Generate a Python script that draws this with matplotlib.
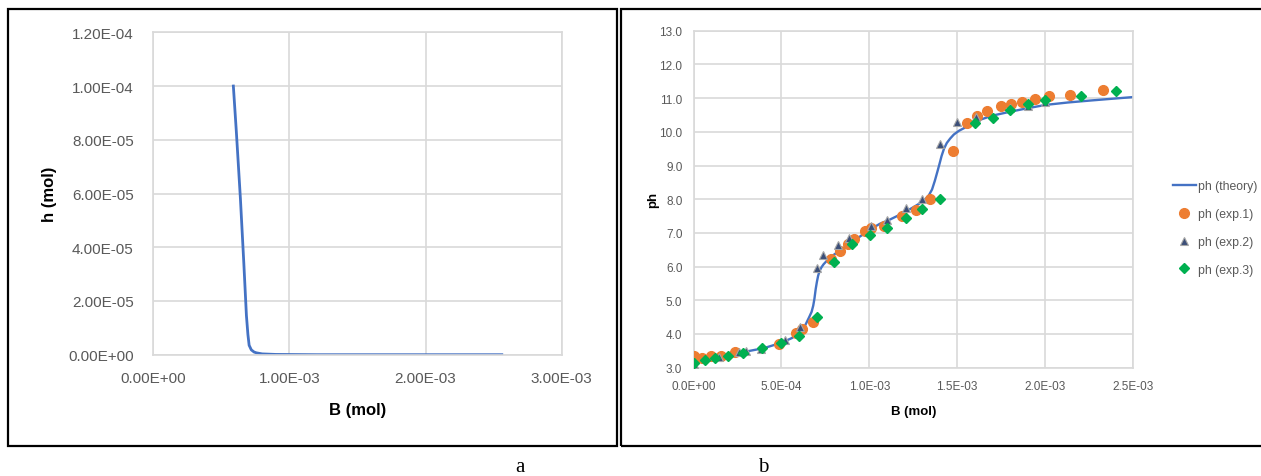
import matplotlib
matplotlib.use("Agg")
import matplotlib.pyplot as plt
from matplotlib.patches import Rectangle

# === Dados ===
# painel a: h (mol) vs B (mol)
a_B = [5.88e-4, 6.10e-4, 6.40e-4, 6.65e-4, 6.84e-4, 6.95e-4, 7.04e-4, 7.20e-4,
       7.40e-4, 7.57e-4, 8.0e-4, 9.0e-4, 1.2e-3, 1.8e-3, 2.56e-3]
a_h = [1.0e-4, 8.3e-5, 5.8e-5, 3.4e-5, 1.46e-5, 7.5e-6, 3.5e-6, 1.8e-6,
       1.0e-6, 0.7e-6, 0.3e-6, 0.1e-6, 0.0, 0.0, 0.0]

# painel b: ph vs B (mol)
th_B = [0.0, 1.0e-4, 2.0e-4, 3.0e-4, 4.0e-4, 5.0e-4, 5.6e-4, 6.0e-4, 6.3e-4, 6.58e-4,
        6.72e-4, 6.81e-4, 6.88e-4, 6.95e-4, 7.02e-4, 7.09e-4, 7.18e-4, 7.28e-4,
        7.40e-4, 7.58e-4, 7.85e-4, 8.16e-4, 8.6e-4, 9.1e-4, 9.6e-4, 1.007e-3,
        1.06e-3, 1.119e-3, 1.17e-3, 1.213e-3, 1.26e-3, 1.306e-3, 1.335e-3,
        1.357e-3, 1.373e-3, 1.388e-3, 1.400e-3, 1.411e-3, 1.425e-3, 1.441e-3,
        1.46e-3, 1.481e-3, 1.51e-3, 1.539e-3, 1.58e-3, 1.632e-3, 1.70e-3,
        1.796e-3, 1.90e-3, 2.006e-3, 2.13e-3, 2.262e-3, 2.38e-3, 2.5e-3]
th_ph = [3.28, 3.33, 3.40, 3.48, 3.58, 3.74, 3.88, 4.03, 4.20, 4.50,
         4.66, 4.84, 5.05, 5.33, 5.55, 5.73, 5.88, 5.98,
         6.07, 6.17, 6.30, 6.42, 6.58, 6.76, 6.94, 7.11,
         7.27, 7.40, 7.53, 7.65, 7.79, 7.94, 8.08,
         8.29, 8.55, 8.83, 9.06, 9.28, 9.50, 9.67,
         9.80, 9.92, 10.03, 10.11, 10.23, 10.36, 10.48,
         10.59, 10.70, 10.80, 10.87, 10.93, 10.98, 11.03]

exp1_B = [0.0, 4.7e-5, 9.8e-5, 1.59e-4, 2.38e-4, 4.85e-4, 5.83e-4, 6.2e-4, 6.8e-4,
          7.81e-4, 8.35e-4, 8.77e-4, 9.14e-4, 9.75e-4, 1.007e-3, 1.084e-3,
          1.185e-3, 1.264e-3, 1.348e-3, 1.476e-3, 1.558e-3, 1.614e-3, 1.672e-3,
          1.749e-3, 1.807e-3, 1.870e-3, 1.943e-3, 2.024e-3, 2.139e-3, 2.332e-3]
exp1_ph = [3.36, 3.30, 3.35, 3.36, 3.46, 3.71, 4.02, 4.15, 4.35,
           6.22, 6.47, 6.67, 6.83, 7.06, 7.16, 7.21,
           7.50, 7.67, 8.02, 9.42, 10.26, 10.46, 10.63,
           10.77, 10.83, 10.87, 10.97, 11.05, 11.10, 11.23]

exp2_B = [0.0, 1.47e-4, 2.57e-4, 2.99e-4, 3.85e-4, 5.2e-4, 6.06e-4, 7.04e-4,
          7.39e-4, 8.21e-4, 8.82e-4, 1.007e-3, 1.103e-3, 1.206e-3, 1.299e-3,
          1.404e-3, 1.499e-3, 1.609e-3, 1.80e-3, 1.90e-3, 2.0e-3]
exp2_ph = [3.12, 3.32, 3.46, 3.51, 3.56, 3.83, 4.20, 5.95,
           6.34, 6.65, 6.86, 7.21, 7.38, 7.73, 8.02,
           9.65, 10.28, 10.44, 10.70, 10.77, 10.87]

exp3_B = [0.0, 6.3e-5, 1.21e-4, 1.98e-4, 2.82e-4, 3.89e-4, 4.99e-4, 6.02e-4,
          7.04e-4, 8.0e-4, 9.02e-4, 1.003e-3, 1.103e-3, 1.206e-3, 1.301e-3,
          1.404e-3, 1.602e-3, 1.702e-3, 1.80e-3, 1.90e-3, 2.0e-3, 2.204e-3, 2.402e-3]
exp3_ph = [3.14, 3.22, 3.29, 3.34, 3.43, 3.58, 3.73, 3.93,
           4.50, 6.15, 6.67, 6.93, 7.16, 7.45, 7.72,
           8.02, 10.26, 10.41, 10.66, 10.83, 10.95, 11.05, 11.20]

a_yticks = [0, 2e-5, 4e-5, 6e-5, 8e-5, 1e-4, 1.2e-4]
a_xticks = [0, 1e-3, 2e-3, 3e-3]
b_yticks = [3.0, 4.0, 5.0, 6.0, 7.0, 8.0, 9.0, 10.0, 11.0, 12.0, 13.0]
b_xticks = [0, 5e-4, 1e-3, 1.5e-3, 2e-3, 2.5e-3]

# === Estilo ===
narrow = ["Liberation Sans Narrow", "Liberation Sans", "DejaVu Sans"]
plt.rcParams["font.family"] = ["Liberation Sans", "DejaVu Sans"]
grid_c = "#d9d9d9"
tick_c = "#595959"
blue = "#4472C4"

W, H = 1261, 477
fig = plt.figure(figsize=(W / 100, H / 100), dpi=100)


def frac(x0, y0, x1, y1):
    # caixa em pixels (origem no topo) -> fração da figura
    return [x0 / W, 1 - y1 / H, (x1 - x0) / W, (y1 - y0) / H]


def style(ax):
    for s in ax.spines.values():
        s.set_color(grid_c)
        s.set_linewidth(1.2)
    ax.grid(True, color=grid_c, lw=1.2)
    ax.set_axisbelow(True)
    ax.tick_params(length=0, colors=tick_c)


# molduras
fig.add_artist(Rectangle((8 / W, 1 - 447 / H), (617 - 8) / W, (447 - 10) / H,
                         transform=fig.transFigure, fill=False, ec="black", lw=1.6))
fig.add_artist(Rectangle((621 / W, 1 - 447 / H), (1264 - 621) / W, (447 - 10) / H,
                         transform=fig.transFigure, fill=False, ec="black", lw=1.6))

# === Painel a ===
ax1 = fig.add_axes(frac(153.3, 33.3, 561.7, 355.7))
style(ax1)
ax1.plot(a_B, a_h, color=blue, lw=2.0)
ax1.set_xlim(0, 3e-3)
ax1.set_ylim(0, 1.2e-4)
ax1.set_xticks(a_xticks)
ax1.set_yticks(a_yticks)
ax1.set_xticklabels(["%.2E" % v for v in a_xticks], fontsize=11)
ax1.set_yticklabels(["%.2E" % v for v in a_yticks], fontsize=11)
ax1.tick_params(axis="y", pad=14)
ax1.tick_params(axis="x", pad=12)
ax1.set_xlabel("B (mol)", fontsize=12, fontweight="bold", labelpad=12)
ax1.set_ylabel("h (mol)", fontsize=12, fontweight="bold", labelpad=8)

# === Painel b ===
ax2 = fig.add_axes(frac(693.5, 31.7, 1133, 368.7))
style(ax2)
ax2.plot(th_B, th_ph, color=blue, lw=1.7, label="ph (theory)", zorder=2)
ax2.plot(exp1_B, exp1_ph, "o", color="#ED7D31", ms=7, mec="#ED7D31",
         label="ph (exp.1)", zorder=3)
ax2.plot(exp2_B, exp2_ph, "^", color="#3B4E78", ms=6, mec="#A6A6A6", mew=0.8,
         label="ph (exp.2)", zorder=4)
ax2.plot(exp3_B, exp3_ph, "D", color="#00B050", ms=5.3, mec="#00B050",
         label="ph (exp.3)", zorder=5)
ax2.set_xlim(0, 2.5e-3)
ax2.set_ylim(3, 13)
ax2.set_xticks(b_xticks)
ax2.set_yticks(b_yticks)
ax2.set_xticklabels(["%.1E" % v for v in b_xticks], fontsize=8.5, family=narrow)
ax2.set_yticklabels(["%.1f" % v for v in b_yticks], fontsize=8.5, family=narrow)
ax2.tick_params(axis="y", pad=8)
ax2.tick_params(axis="x", pad=9)
ax2.set_xlabel("B (mol)", fontsize=9.5, fontweight="bold", family=narrow, labelpad=9)
ax2.set_ylabel("ph", fontsize=9.5, fontweight="bold", labelpad=0)

leg = ax2.legend(loc="center left", bbox_to_anchor=(1.065, 0.415), frameon=False,
                 prop={"family": narrow, "size": 8.8}, labelspacing=1.3,
                 handlelength=1.9, handletextpad=0.2)
for t in leg.get_texts():
    t.set_color(tick_c)

# rotulos a / b
fig.text(520 / W, 1 - 468 / H, "a", family="Liberation Serif", fontsize=15,
         ha="center", va="center")
fig.text(763 / W, 1 - 468 / H, "b", family="Liberation Serif", fontsize=15,
         ha="center", va="center")

fig.savefig("out.png", dpi=100)
